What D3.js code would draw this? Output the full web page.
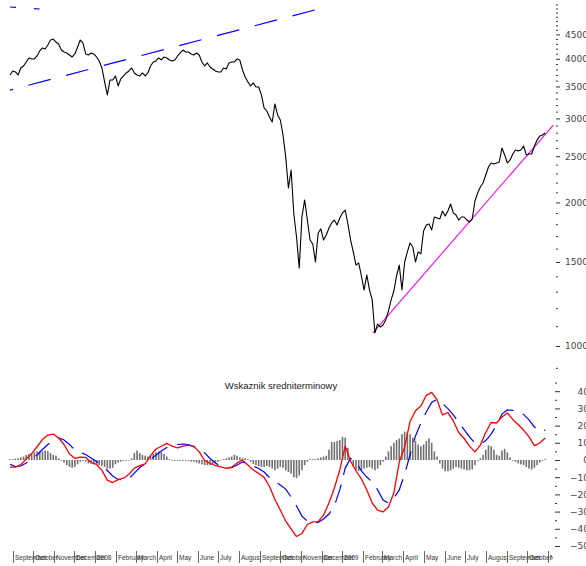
<!DOCTYPE html>
<html>
<head>
<meta charset="utf-8">
<script src="https://cdn.jsdelivr.net/npm/d3@7"></script>
<style>body{margin:0;background:#fff}</style>
</head>
<body>
<div id="container"></div>
<script>
// index closes, one reading every 4 calendar days from 2007-08-28
const price = [3700,3772,3754,3700,3827,3864,3940,4017,3997,3997,
  4055,4154,4215,4194,4276,4380,4400,4338,4296,4174,
  4134,4115,4075,4036,4095,4235,4380,4317,4095,4075,
  4115,4095,4036,3959,3827,3578,3360,3612,3612,3682,
  3509,3630,3682,3736,3772,3827,3736,3700,3682,3736,
  3682,3736,3864,3940,3959,4017,3978,4036,4017,3978,
  3959,3978,4055,4115,4174,4134,4134,4095,4075,4115,
  4075,3940,3864,3921,3846,3809,3772,3754,3754,3827,
  3809,3921,3940,3940,3997,3978,3790,3665,3578,3509,
  3561,3492,3492,3360,3155,3110,3021,2949,3217,3050,
  2977,2769,2491,2144,2339,1891,1692,1457,1864,2024,
  1837,1668,1636,1500,1726,1760,1668,1709,1768,1811,
  1837,1794,1855,1901,1928,1803,1668,1575,1478,1493,
  1402,1310,1409,1310,1249,1065,1112,1096,1107,1134,
  1184,1249,1304,1402,1478,1310,1500,1575,1644,1613,
  1500,1575,1560,1743,1794,1803,1751,1864,1855,1846,
  1919,1873,1919,1985,1901,1882,1837,1864,1864,1837,
  1820,1846,2014,2093,2154,2196,2283,2373,2419,2408,
  2419,2431,2601,2515,2419,2455,2527,2576,2564,2576,
  2626,2515,2527,2527,2626,2704,2756,2769,2796];

// histogram of the indicator, same 4-day steps
const hist = [0.5,0.5,0.8,1,1.5,2,3,3.5,4,4.5,
  5,5,5,5.5,5,4,3,2.5,1,0,
  -1.5,-3,-4,-4.5,-4,-2.5,-1,-0.5,-1,-2,
  -2,-2.5,-2.5,-3,-3.5,-4,-5,-5,-4.5,-2.5,
  -1.5,-1,-0.5,-0.5,0,1,4,5.5,4,3,
  2.5,2,2.5,3.5,4.5,5,4.5,3.5,2,0.5,
  0,-0.5,-0.5,-0.5,-0.5,-0.5,-0.5,-1,-1,-1.5,
  -2,-2.5,-3,-3,-3,-2.5,-2,-1,0,0.5,
  1,1.5,2,3,2.5,1.5,1,1,0.5,-1,
  -2.5,-3,-3.5,-4,-4,-3.5,-4,-5,-6,-5,
  -4,-4.5,-6,-7,-8,-10,-10.5,-9,-6,-3,
  -1,0.5,0.5,0.5,1,1.5,2,2.5,6,10.5,
  10.5,11,11.5,13.5,13,7,1,-4,-6,-6.5,
  -6,-5,-4.5,-4,-5,-6,-5,-3,-1,2,
  5,8,10,11.5,12.5,15,16.5,16,15,13,
  11,9,8,9,11,12.5,10,5,2,-2,
  -5,-6.5,-6.5,-6,-5,-4,-4.5,-5,-5.5,-6,
  -6,-5.5,-3,-0.5,1,3,6,8.5,8,6,
  3,2.5,5.5,6.5,4.5,1.5,0,-1,-2,-2.5,
  -3,-4,-5,-5.5,-4.5,-3,-1.5,-0.5,0.5];

// indicator lines, one reading every 8 days
const redLine = [-4.2,-4.2,-2.7,0.6,3.7,7.7,11.9,14.5,15.1,12.8,
  9.0,3.5,1.0,1.7,1.5,-1.5,-2.6,-6.0,-11.7,-13.1,
  -11.4,-10.6,-8.3,-4.7,-3.3,-2.2,2.5,6.4,8.0,9.7,
  8.0,7.0,8.0,8.7,7.9,4.7,-0.3,-2.0,-3.2,-4.0,
  -4.8,-4.2,-1.7,-0.1,-2.9,-5.8,-7.8,-10.1,-15.4,-23.0,
  -29.1,-35.5,-40.1,-44.5,-42.7,-37.5,-36.0,-35.8,-32.0,-25.0,
  -16.3,-5.8,8.1,-0.6,-6.4,-11.0,-17.4,-25.0,-29.1,-30.2,
  -27.3,-19.2,-1.2,7.6,22.4,28.6,31.4,37.6,39.3,34.9,
  26.2,27.6,22.7,16.0,12.5,8.1,4.7,8.7,16.0,21.8,
  21.5,25.0,27.3,23.6,20.6,17.4,13.4,8.4,9.9,12.8];
const blueLine = [-2.5,-3.8,-3.5,-1.7,0.6,2.9,6.1,9.0,11.6,12.8,
  11.6,9.0,5.8,4.4,3.2,1.2,-0.9,-3.2,-6.1,-9.3,
  -11.3,-11.6,-10.8,-7.6,-4.4,-2.3,0.3,2.9,5.2,7.3,
  8.4,9.0,9.3,9.0,7.8,6.7,4.1,0.9,-1.7,-3.8,
  -4.7,-4.5,-2.9,-1.2,-2.0,-3.5,-4.9,-7.0,-10.2,-12.5,
  -14.5,-16.9,-21.5,-26.7,-32.6,-35.5,-36.6,-36.3,-34.3,-31.4,
  -26.7,-17.4,-4.7,0.9,-1.2,-6.4,-9.9,-12.8,-17.4,-23.3,
  -25.0,-22.1,-17.4,-8.1,2.9,14.0,21.5,27.9,33.4,35.3,
  32.8,29.9,26.2,21.8,17.7,13.4,9.9,9.0,11.3,15.1,
  20.3,26.7,29.1,28.8,27.6,26.5,23.3,19.2,16.5,17.4];

// trend lines drawn on the price panel
const resistance = [{date:"2007-08-28", v:3440}, {date:"2008-12-13", v:5160}];
const upperLine = [{date:"2007-08-28", v:5137}, {date:"2007-10-11", v:5087}];
const support = [{date:"2009-02-15", v:1065}, {date:"2009-11-09", v:2905}];

const monthLabels = ["September","October","November","December","2008","February","March",
  "April","May","June","July","August","September","October","November","December","2009",
  "February","March","April","May","June","July","August","September","October","November"];
const priceTicks = [1000,1500,2000,2500,3000,3500,4000,4500];
const priceMinor = [900,1100,1200,1300,1400,1600,1700,1800,1900,2100,2200,2300,2400,
  2600,2700,2800,2900,3100,3200,3300,3400,3600,3700,3800,3900,4100,4200,4300,4400,
  4600,4700,4800,4900,5000,5100,5200];
const indTicks = [-50,-40,-30,-20,-10,0,10,20,30,40];
const indMinor = [-45,-35,-25,-15,-5,5,15,25,35,45];
const title = "Wskaznik sredniterminowy";

const width = 586;
const height = 566;
const start = new Date(Date.UTC(2007, 7, 28));
const parse = d3.utcParse("%Y-%m-%d");

const x = d3.scaleUtc([start, new Date(Date.UTC(2009, 10, 10))], [10, 554]);
const y = d3.scaleLog([1000, 10000], [346, -131]);
const yi = d3.scaleLinear([-50, 40], [546, 391.2]);

const days4 = price.map((d, i) => d3.utcDay.offset(start, 4 * i));
const days8 = redLine.map((d, i) => d3.utcDay.offset(start, 8 * i));

const svg = d3.select("#container").append("svg")
  .attr("width", width)
  .attr("height", height)
  .style("font-family", "'Liberation Sans', Arial, sans-serif");

svg.append("clipPath").attr("id", "topclip")
  .append("rect").attr("x", 9).attr("y", 5).attr("width", 546).attr("height", 370);
svg.append("clipPath").attr("id", "monthclip")
  .append("rect").attr("x", 0).attr("y", 545).attr("width", 553).attr("height", 21);

const priceG = svg.append("g").attr("clip-path", "url(#topclip)");

const tline = d3.line().x(d => x(parse(d.date))).y(d => y(d.v));

priceG.append("path")
  .attr("fill", "none")
  .attr("stroke", "#0000ff")
  .attr("stroke-width", 1.2)
  .attr("stroke-dasharray", "23,16")
  .attr("stroke-dashoffset", 20)
  .attr("d", tline(resistance));

priceG.append("path")
  .attr("fill", "none")
  .attr("stroke", "#0000ff")
  .attr("stroke-width", 1.2)
  .attr("stroke-dasharray", "6,18")
  .attr("d", tline(upperLine));

priceG.append("path")
  .attr("fill", "none")
  .attr("stroke", "#ff00ff")
  .attr("stroke-width", 1.1)
  .attr("d", tline(support));

priceG.append("path")
  .attr("fill", "none")
  .attr("stroke", "#000")
  .attr("stroke-width", 1.1)
  .attr("stroke-linejoin", "round")
  .attr("d", d3.line().x((d, i) => x(days4[i])).y(d => y(d))(price));

// price axis on the right
const pa = svg.append("g").attr("transform", "translate(556,0)")
  .call(d3.axisRight(y).tickValues(priceTicks).tickSize(4).tickPadding(5).tickFormat(d3.format("d")));
const pm = svg.append("g").attr("transform", "translate(556,0)")
  .call(d3.axisRight(y).tickValues(priceMinor).tickSize(2).tickFormat(""));

// indicator panel
svg.append("text")
  .attr("x", 281).attr("y", 389)
  .attr("text-anchor", "middle")
  .attr("font-size", 9.5)
  .attr("fill", "#222")
  .text(title);

svg.append("g").selectAll("rect")
  .data(hist)
  .join("rect")
  .attr("x", (d, i) => x(days4[i]) - 0.8)
  .attr("width", 1.6)
  .attr("y", d => Math.min(yi(0), yi(d)))
  .attr("height", d => Math.max(0.7, Math.abs(yi(d) - yi(0))))
  .attr("fill", "#707070");

const iline = d3.line().x((d, i) => x(days8[i])).y(d => yi(d));

svg.append("path")
  .attr("fill", "none")
  .attr("stroke", "#0000ff")
  .attr("stroke-width", 1.2)
  .attr("stroke-dasharray", "19,10")
  .attr("d", iline(blueLine));

svg.append("path")
  .attr("fill", "none")
  .attr("stroke", "#ff0000")
  .attr("stroke-width", 1.3)
  .attr("stroke-linejoin", "round")
  .attr("d", iline(redLine));

const ia = svg.append("g").attr("transform", "translate(555,0)")
  .call(d3.axisRight(yi).tickValues(indTicks).tickSize(5).tickPadding(29).tickFormat(d3.format("d")));
ia.selectAll("text").attr("text-anchor", "end");
const im = svg.append("g").attr("transform", "translate(555,0)")
  .call(d3.axisRight(yi).tickValues(indMinor).tickSize(2).tickFormat(""));

[pa, pm, ia, im].forEach(g => {
  g.select(".domain").remove();
  g.selectAll("line").attr("stroke", "#333");
  g.selectAll("text").attr("font-family", "'DejaVu Sans', sans-serif").attr("font-size", 9).attr("fill", "#444");
});

// month axis
const months = d3.utcMonth.range(new Date(Date.UTC(2007, 8, 1)), new Date(Date.UTC(2009, 10, 2)));
const mg = svg.append("g").attr("clip-path", "url(#monthclip)").selectAll("g")
  .data(months)
  .join("g")
  .attr("transform", d => `translate(${Math.round(x(d)) + 0.5},0)`);
mg.append("line").attr("y1", 551).attr("y2", 563).attr("stroke", "#666");
mg.append("text")
  .attr("x", 1.5).attr("y", 560)
  .attr("font-size", 6.5)
  .attr("fill", "#333")
  .text((d, i) => monthLabels[i]);
</script>
</body>
</html>
